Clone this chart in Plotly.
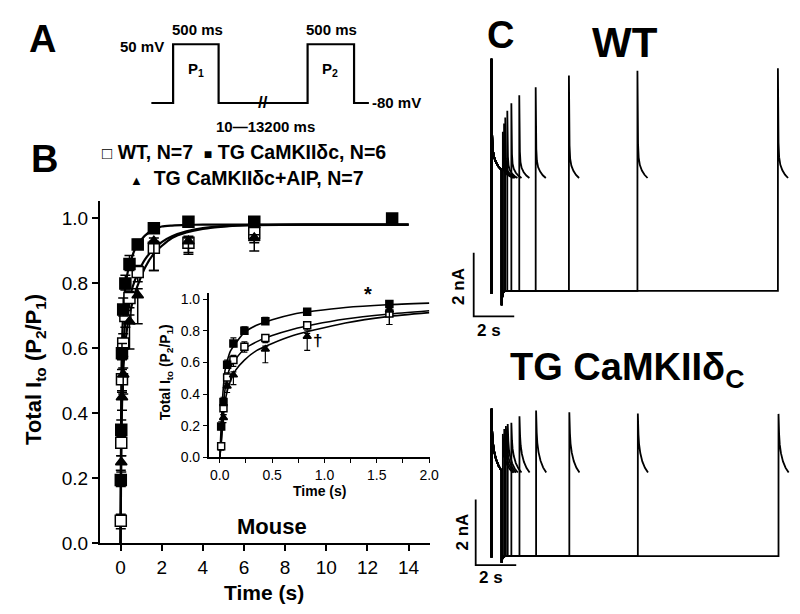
import plotly.graph_objects as go

W, H = 800, 614
FONT = "Liberation Sans, Arial, sans-serif"


def fx(p):
    return p / W


def fy(p):
    return 1 - p / H


# ---------------- Panel B data (recovery of Ito) ----------------
t_wt = [0.013, 0.035, 0.07, 0.13, 0.235, 0.435, 0.835, 1.62, 3.3, 6.5]
v_wt = [0.07, 0.31, 0.505, 0.615, 0.70, 0.755, 0.835, 0.91, 0.925, 0.955]
e_wt_up = [0.02, 0.03, 0.03, 0.03, 0.03, 0.02, 0.02, 0.02, 0.02, 0.02]
e_wt_dn = [0.025, 0.04, 0.04, 0.04, 0.035, 0.03, 0.03, 0.07, 0.03, 0.03]

t_tg = [0.013, 0.035, 0.07, 0.13, 0.235, 0.435, 0.835, 1.62, 3.3, 6.5, 13.2]
v_tg = [0.195, 0.35, 0.585, 0.72, 0.80, 0.86, 0.92, 0.97, 0.99, 0.99, 1.0]
e_tg_up = [0.03, 0.03, 0.03, 0.035, 0.025, 0.026, 0.015, 0.01, 0.01, 0.01, 0.01]
e_tg_dn = [0.02, 0.02, 0.02, 0.02, 0.02, 0.02, 0.015, 0.01, 0.01, 0.01, 0.01]

t_aip = [0.035, 0.07, 0.13, 0.435, 0.835, 1.62, 3.3, 6.5]
v_aip = [0.25, 0.45, 0.52, 0.683, 0.764, 0.93, 0.93, 0.94]
e_aip_up = [0.02, 0.02, 0.02, 0.02, 0.02, 0.01, 0.01, 0.01]
e_aip_dn = [0.03, 0.04, 0.06, 0.085, 0.088, 0.09, 0.04, 0.04]

# fitted curves (early part, shown in inset)
fit_t = [0, 0.013, 0.03, 0.05, 0.075, 0.1, 0.15, 0.235, 0.35, 0.5, 0.7, 0.9, 1.2, 1.6, 2.0]
fit_tg = [0, 0.2, 0.41, 0.55, 0.62, 0.67, 0.72, 0.79, 0.835, 0.87, 0.905, 0.925, 0.948, 0.965, 0.975]
fit_wt = [0, 0.1, 0.29, 0.43, 0.52, 0.57, 0.62, 0.685, 0.73, 0.77, 0.81, 0.84, 0.875, 0.905, 0.927]
fit_aip = [0, 0.08, 0.23, 0.35, 0.43, 0.48, 0.55, 0.615, 0.675, 0.72, 0.77, 0.805, 0.85, 0.89, 0.915]
# plateau part (main panel only)
ext_t = [2.5, 3.2, 4.0, 5.0, 6.5, 9.0, 14.0]
ext_tg = [0.978, 0.98, 0.981, 0.981, 0.981, 0.981, 0.981]
ext_wt = [0.945, 0.96, 0.97, 0.976, 0.98, 0.981, 0.981]
ext_aip = [0.94, 0.957, 0.968, 0.975, 0.979, 0.981, 0.981]

main_xticks = [0, 2, 4, 6, 8, 10, 12, 14]
main_yticks = [0.0, 0.2, 0.4, 0.6, 0.8, 1.0]
inset_xticks = [0.0, 0.5, 1.0, 1.5, 2.0]
inset_yticks = [0.0, 0.2, 0.4, 0.6, 0.8, 1.0]

# ---------------- Panel A protocol ----------------
proto_levels = [-80, 50, -80, 50, -80]          # mV
proto_widths = [22, 46, 90, 47, 15]             # schematic segment lengths

# ---------------- Panel C current traces ----------------
p2_t_wt = [0.56, 0.62, 0.68, 0.78, 0.98, 1.37, 2.18, 3.82, 7.2, 14.13]
p2_pk_wt = [5.0, 5.26, 5.45, 5.66, 5.9, 6.15, 6.4, 6.77, 6.92, 7.0]
p1_pk_wt, p1_end_wt, p2_end_wt, dip_wt = 7.3, 3.8, 3.55, -0.45

p2_t_tg = [0.56, 0.63, 0.71, 0.8, 0.98, 1.38, 2.2, 3.84, 7.22, 14.16]
p2_pk_tg = [3.73, 3.88, 3.97, 4.03, 4.07, 4.27, 4.44, 4.39, 4.35, 4.34]
p1_pk_tg, p1_end_tg, p2_end_tg, dip_tg = 4.5, 2.6, 2.55, -0.2

pulse_dt = [0, 0.01, 0.03, 0.06, 0.12, 0.22, 0.35, 0.5]
decay_wt = [1, 0.6, 0.32, 0.19, 0.12, 0.07, 0.03, 0]
decay_tg = [1, 0.85, 0.65, 0.48, 0.33, 0.19, 0.08, 0]
dip_dt = [0.0, 0.02, 0.08, 0.16]
dip_frac = [1.0, 0.5, 0.12, 0.0]


def sweeps(p2_t, p2_pk, p1_pk, p1_end, p2_end, dip, decay):
    xs, ys = [], []
    for t2, pk in zip(p2_t, p2_pk):
        # P1
        xs += [0.0]
        ys += [dip * 0.2]
        for d, f in zip(pulse_dt, decay):
            xs.append(d)
            ys.append(p1_end + f * (p1_pk - p1_end))
        # repolarisation tail
        for d, f in zip(dip_dt, dip_frac):
            tt = 0.5 + d
            if tt < t2:
                xs.append(tt)
                ys.append(dip * f)
        xs.append(t2)
        ys.append(0.0)
        # P2
        for d, f in zip(pulse_dt, decay):
            xs.append(t2 + d)
            ys.append(p2_end + f * (pk - p2_end))
        xs.append(None)
        ys.append(None)
    return xs, ys


fig = go.Figure()
blk = "black"

# ---- main panel curves
for ft, fv in [(fit_t + ext_t, fit_wt + ext_wt), (fit_t + ext_t, fit_aip + ext_aip),
               (fit_t + ext_t, fit_tg + ext_tg)]:
    fig.add_trace(go.Scatter(x=ft, y=fv, mode="lines", xaxis="x", yaxis="y",
                             line=dict(color=blk, width=2.2, shape="spline", smoothing=0.6),
                             hoverinfo="skip"))


def add_points(t, v, up, dn, symbol, fill, size, xa, ya, thick, cap, tmax=None):
    if tmax is not None:
        keep = [i for i, tt in enumerate(t) if tt <= tmax]
        t = [t[i] for i in keep]
        v = [v[i] for i in keep]
        up = [up[i] for i in keep]
        dn = [dn[i] for i in keep]
    fig.add_trace(go.Scatter(
        x=t, y=v, mode="markers", xaxis=xa, yaxis=ya,
        marker=dict(symbol=symbol, size=size, color=fill, line=dict(color=blk, width=1.5)),
        error_y=dict(type="data", symmetric=False, array=up, arrayminus=dn,
                     color=blk, thickness=thick, width=cap),
        hoverinfo="skip"))


add_points(t_wt, v_wt, e_wt_up, e_wt_dn, "square", "white", 11, "x", "y", 1.5, 5)
add_points(t_aip, v_aip, e_aip_up, e_aip_dn, "triangle-up", blk, 10, "x", "y", 1.5, 5)
add_points(t_tg, v_tg, e_tg_up, e_tg_dn, "square", blk, 11, "x", "y", 1.5, 5)

# ---- inset
for fv in [fit_wt, fit_aip, fit_tg]:
    fig.add_trace(go.Scatter(x=fit_t, y=fv, mode="lines", xaxis="x2", yaxis="y2",
                             line=dict(color=blk, width=1.6, shape="spline", smoothing=0.6),
                             hoverinfo="skip"))
add_points(t_wt, v_wt, e_wt_up, e_wt_dn, "square", "white", 7, "x2", "y2", 1.2, 3, tmax=2.0)
add_points(t_aip, v_aip, e_aip_up, e_aip_dn, "triangle-up", blk, 7, "x2", "y2", 1.2, 3, tmax=2.0)
add_points(t_tg, v_tg, e_tg_up, e_tg_dn, "square", blk, 7, "x2", "y2", 1.2, 3, tmax=2.0)

# ---- panel C traces
xw, yw = sweeps(p2_t_wt, p2_pk_wt, p1_pk_wt, p1_end_wt, p2_end_wt, dip_wt, decay_wt)
fig.add_trace(go.Scatter(x=xw, y=yw, mode="lines", xaxis="x3", yaxis="y3",
                         line=dict(color=blk, width=1.8), hoverinfo="skip"))
xt, yt = sweeps(p2_t_tg, p2_pk_tg, p1_pk_tg, p1_end_tg, p2_end_tg, dip_tg, decay_tg)
fig.add_trace(go.Scatter(x=xt, y=yt, mode="lines", xaxis="x4", yaxis="y4",
                         line=dict(color=blk, width=1.8), hoverinfo="skip"))

scale_s, scale_nA = 2, 2
for xa, ya, x0, y0 in [("x3", "y3", -0.878, -0.8), ("x4", "y4", -0.78, -0.27)]:
    fig.add_trace(go.Scatter(x=[x0, x0, x0 + scale_s], y=[y0 + scale_nA, y0, y0],
                             mode="lines", xaxis=xa, yaxis=ya,
                             line=dict(color=blk, width=1.8), hoverinfo="skip"))

# ---- panel A protocol
px_, py_ = [0], [proto_levels[0]]
pos = 0
for lev, w in zip(proto_levels, proto_widths):
    px_ += [pos, pos + w]
    py_ += [lev, lev]
    pos += w
fig.add_trace(go.Scatter(x=px_, y=py_, mode="lines", xaxis="x5", yaxis="y5",
                         line=dict(color=blk, width=2.2), hoverinfo="skip"))

# ---------------- layout ----------------
axis_common = dict(showgrid=False, zeroline=False, showline=True, linecolor=blk,
                   ticks="outside", tickcolor=blk)

# pixel mapping for panel C
t_per_px = 1 / 20.5
layout = dict(
    width=W, height=H, autosize=False,
    margin=dict(l=0, r=0, t=0, b=0),
    paper_bgcolor="white", plot_bgcolor="rgba(0,0,0,0)",
    showlegend=False,
    font=dict(family=FONT, color=blk),
    xaxis=dict(domain=[fx(93), fx(427)], range=[-1.0, 15.05], tickvals=main_xticks,
               linewidth=2, tickwidth=2, ticklen=6, tickfont=dict(size=19), anchor="y",
               **axis_common),
    yaxis=dict(domain=[fy(545), fy(195)], range=[0, 1.054], tickvals=main_yticks,
               tickformat=".1f", linewidth=2, tickwidth=2, ticklen=6,
               tickfont=dict(size=19), anchor="x", **axis_common),
    xaxis2=dict(domain=[fx(203), fx(427)], range=[-0.106, 2.01], tickvals=inset_xticks,
                tickformat=".1f", linewidth=1.5, tickwidth=1.3, ticklen=4,
                tickfont=dict(size=14), anchor="y2",
                minor=dict(dtick=0.25, tick0=0, ticks="outside", ticklen=4, tickwidth=1.3,
                           tickcolor=blk),
                **axis_common),
    yaxis2=dict(domain=[fy(457), fy(289)], range=[0, 1.04], tickvals=inset_yticks,
                tickformat=".1f", linewidth=1.5, tickwidth=1.3, ticklen=4,
                tickfont=dict(size=14), anchor="x2", **axis_common),
    xaxis3=dict(domain=[fx(465), fx(800)], range=[(465 - 489) * t_per_px, (800 - 489) * t_per_px],
                visible=False, anchor="y3"),
    yaxis3=dict(domain=[fy(320), fy(40)], range=[(287 - 320) / 32.5, (287 - 40) / 32.5],
                visible=False, anchor="x3"),
    xaxis4=dict(domain=[fx(465), fx(800)], range=[(465 - 489) * t_per_px, (800 - 489) * t_per_px],
                visible=False, anchor="y4"),
    yaxis4=dict(domain=[fy(600), fy(395)], range=[(558 - 600) / 33.5, (558 - 395) / 33.5],
                visible=False, anchor="x4"),
    xaxis5=dict(domain=[fx(100), fx(420)], range=[100 - 145, 420 - 145], visible=False,
                anchor="y5"),
    yaxis5=dict(domain=[fy(110), fy(10)], range=[-80 - 15 * 130 / 60, 50 + 25 * 130 / 60],
                visible=False, anchor="x5"),
)
fig.update_layout(**layout)


def ann(text, x, y, size, bold=True, xanchor="center", angle=0, xref="paper", yref="paper"):
    if xref == "paper":
        x = fx(x)
        y = fy(y)
    fig.add_annotation(text=("<b>%s</b>" % text) if bold else text, x=x, y=y,
                       xref=xref, yref=yref, showarrow=False, xanchor=xanchor,
                       yanchor="middle", textangle=angle,
                       font=dict(family=FONT, size=size, color=blk))


# panel letters
ann("A", 35, 30, 38)
ann("B", 37, 152, 38)
ann("C", 498, 26, 38)

# panel A labels
ann("50 mV", 160, 37, 15, xanchor="right")
ann("500 ms", 192, 20, 15)
ann("500 ms", 327, 20, 15)
ann("P<sub>1</sub>", 190, 61, 15)
ann("P<sub>2</sub>", 326, 61, 15)
ann("-80 mV", 366, 95, 15, xanchor="left")
ann("10\u201413200 ms", 260, 119, 15)
ann("//", 258, 95, 17)

# legend
sq_o = "<span style='font-size:17px'>\u25a1</span>"
sq_f = "<span style='font-size:14px'>\u25a0</span>"
tri = "<span style='font-size:13px'>\u25b2</span>"
ann(sq_o + " WT, N=7  " + sq_f + " TG CaMKII\u03b4c, N=6", 239, 145, 19.5)
ann(tri + "  TG CaMKII\u03b4c+AIP, N=7", 242, 172, 19.5)

# axis titles panel B
ann("Total I<sub>to</sub> (P<sub>2</sub>/P<sub>1</sub>)", 28, 367, 22, angle=-90)
ann("Time (s)", 259, 595, 21)
ann("Mouse", 267, 528, 22)
ann("Total I<sub>to</sub> (P<sub>2</sub>/P<sub>1</sub>)", 160, 370, 14, angle=-90)
ann("Time (s)", 315, 491, 14)
ann("*", 1.42, 1.03, 20, xref="x2", yref="y2")
ann("\u2020", 0.93, 0.74, 17, xref="x2", yref="y2")

# panel C labels
ann("WT", 624, 33, 42)
ann("TG CaMKII\u03b4<sub>C</sub>", 626, 368, 38)
ann("2 nA", 455, 282, 17, angle=-90)
ann("2 s", 486, 327, 17)
ann("2 nA", 460, 533, 17, angle=-90)
ann("2 s", 488, 580, 17)

fig.write_html("out.html")
